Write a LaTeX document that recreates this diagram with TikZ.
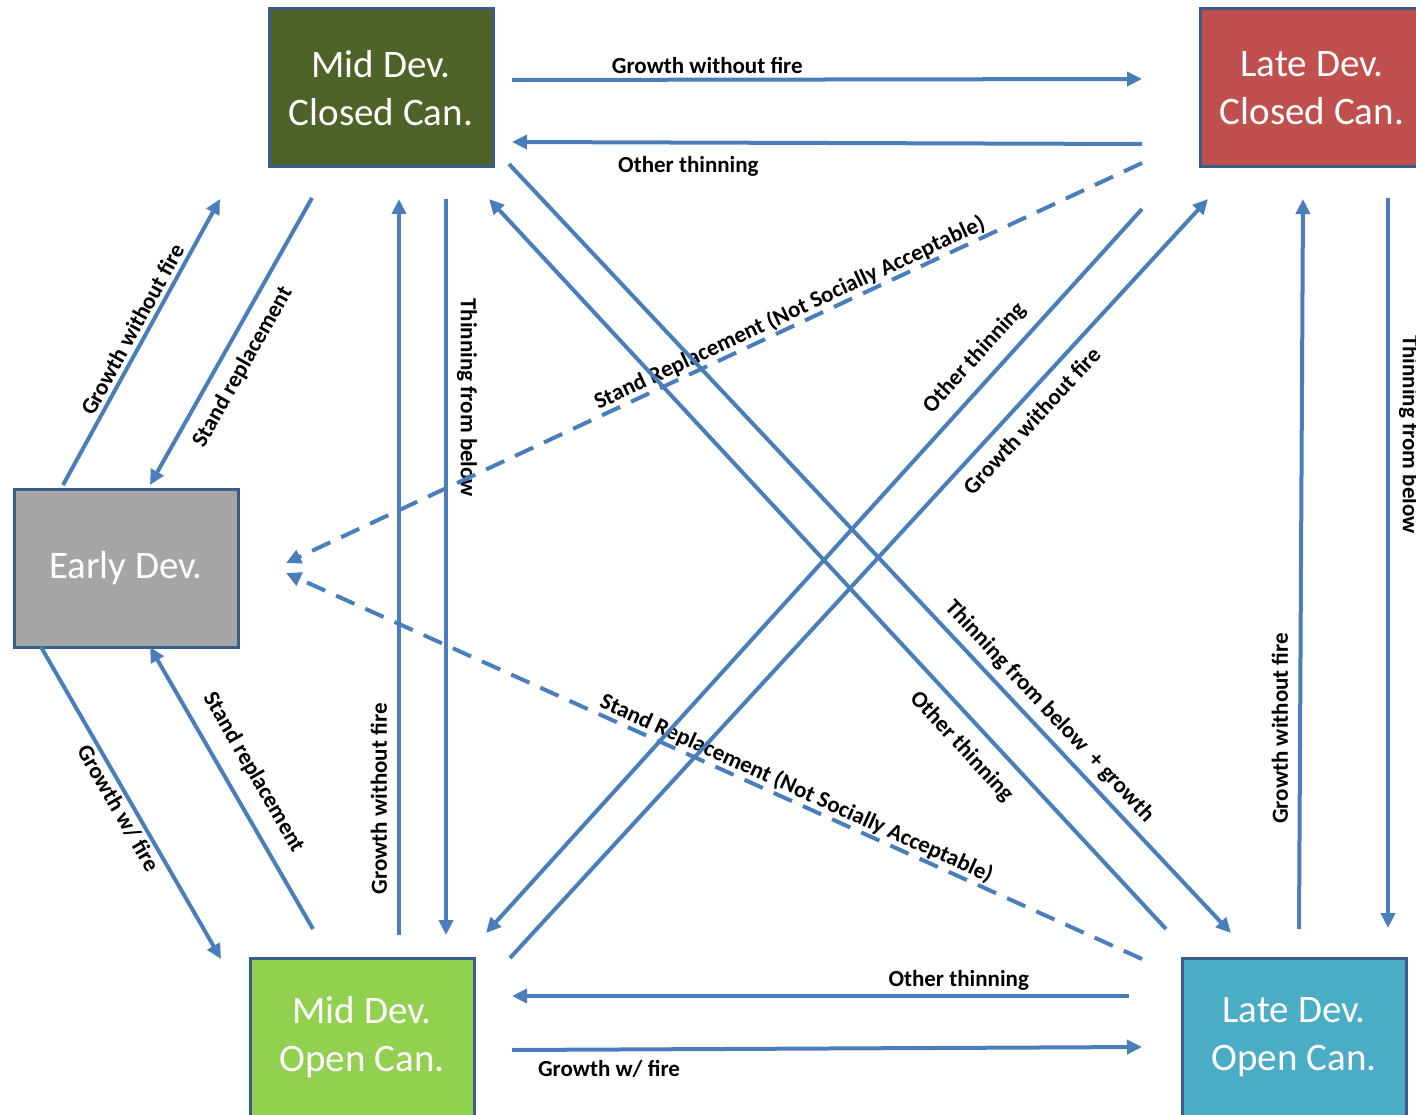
\documentclass[tikz,border=0pt]{standalone}
\usepackage{fontspec}
\setmainfont{Carlito}
\usetikzlibrary{arrows.meta,calc}
\definecolor{flowblue}{HTML}{4A7EBB}
\definecolor{boxline}{HTML}{385D8A}
\definecolor{midclosed}{HTML}{4F6228}
\definecolor{lateclosed}{HTML}{C0504D}
\definecolor{early}{HTML}{A5A5A5}
\definecolor{midopen}{HTML}{92D050}
\definecolor{lateopen}{HTML}{4BACC6}
\begin{document}
\begin{tikzpicture}[x=1pt, y=-1pt,
    state/.style={draw=boxline, line width=3pt, minimum width=224pt, minimum height=158pt,
        outer sep=0pt, inner sep=0pt, text=white, align=center, font=\fontsize{39}{47.5}\selectfont},
    flow/.style={draw=flowblue, line width=4pt, -{Triangle[length=15pt, width=14pt]}},
    altflow/.style={flow, dash pattern=on 20pt off 12pt},
    lbl/.style={font=\bfseries\fontsize{23}{27}\selectfont, inner sep=0pt, text=black}]
        \useasboundingbox (0,0) rectangle (1416,1115);
        \node[state, fill=midclosed] (mc) at (381,88) {Mid Dev.\\Closed Can.};
        \node[state, fill=lateclosed] (lc) at (1312,88) {Late Dev.\\Closed Can.};
        \node[state, fill=early] (ed) at (126,568) {Early Dev.};
        \node[state, fill=midopen] (mo) at (362,1037) {Mid Dev.\\Open Can.};
        \node[state, fill=lateopen] (lo) at (1294,1037) {Late Dev.\\Open Can.};
        \draw[flow] ($(mc.east)+(19,-8)$) -- ($(lc.west)+(-58,-9)$) node[lbl, pos=0.31, above=4pt] {Growth without fire};
        \draw[flow] ($(lc.west)+(-58,56)$) -- ($(mc.east)+(19,54)$) node[lbl, pos=0.72, below=12pt] {Other thinning};
        \draw[flow] ($(ed.north)+(-63,-4)$) -- ($(mc.south west)+(-49,32)$) node[lbl, sloped, pos=0.52, above=4pt] {Growth without fire};
        \draw[flow] ($(mc.south)+(-69,31)$) -- ($(ed.north)+(24,-4)$) node[lbl, sloped, pos=0.55, below=11pt] {Stand replacement};
        \draw[flow] ($(mo.north)+(37,-23)$) -- ($(mc.south)+(18,32)$) node[lbl, pos=0.185, rotate=90, above=10pt] {Growth without fire};
        \draw[flow] ($(mc.south)+(65,32)$) -- ($(mo.north)+(84,-23)$) node[lbl, pos=0.27, rotate=-90, above=9pt] {Thinning from below};
        \draw[altflow] ($(lc.south west)+(-58,-4)$) -- ($(ed.east)+(48,-5)$) node[lbl, sloped, pos=0.405, above=1pt] {Stand Replacement (Not Socially Acceptable)};
        \draw[altflow] ($(lo.north west)+(-40,1)$) -- ($(ed.east)+(48,5)$) node[lbl, sloped, pos=0.41, above=1pt] {Stand Replacement (Not Socially Acceptable)};
        \draw[flow] ($(lo.north west)+(-16,-29)$) -- ($(mc.south east)+(-4,32)$) node[lbl, sloped, pos=0.274, below=14pt] {Other thinning};
        \draw[flow] ($(mc.south east)+(16,-3)$) -- ($(lo.north west)+(49,-25)$) node[lbl, sloped, pos=0.729, above=7pt] {Thinning from below\ \ + growth};
        \draw[flow] ($(lc.south west)+(-58,42)$) -- ($(mo.north east)+(12,-25)$) node[lbl, sloped, pos=0.228, above=12pt] {Other thinning};
        \draw[flow] ($(mo.north east)+(36,0)$) -- ($(lc.south west)+(8,32)$) node[lbl, sloped, pos=0.726, below=10pt] {Growth without fire};
        \draw[flow] ($(lo.north)+(5,-29)$) -- ($(lc.south)+(-9,32)$) node[lbl, pos=0.275, rotate=90, above=10pt] {Growth without fire};
        \draw[flow] ($(lc.south)+(76,31)$) -- ($(lo.north)+(94,-30)$) node[lbl, pos=0.324, rotate=-90, above=9pt] {Thinning from below};
        \draw[flow] ($(lo.west)+(-53,-41)$) -- ($(mo.east)+(38,-41)$) node[lbl, pos=0.276, above=4pt] {Other thinning};
        \draw[flow] ($(mo.east)+(38,13)$) -- ($(lo.west)+(-40,10)$) node[lbl, pos=0.154, below=9pt] {Growth w/ fire};
        \draw[flow] ($(ed.south)+(-85,0)$) -- ($(mo.north west)+(-29,1)$) node[lbl, sloped, pos=0.495, below=3pt] {Growth w/ fire};
        \draw[flow] ($(mo.north)+(-49,-29)$) -- ($(ed.south)+(24,0)$) node[lbl, sloped, pos=0.508, above=15pt] {Stand replacement};
    \end{tikzpicture}
\end{document}
